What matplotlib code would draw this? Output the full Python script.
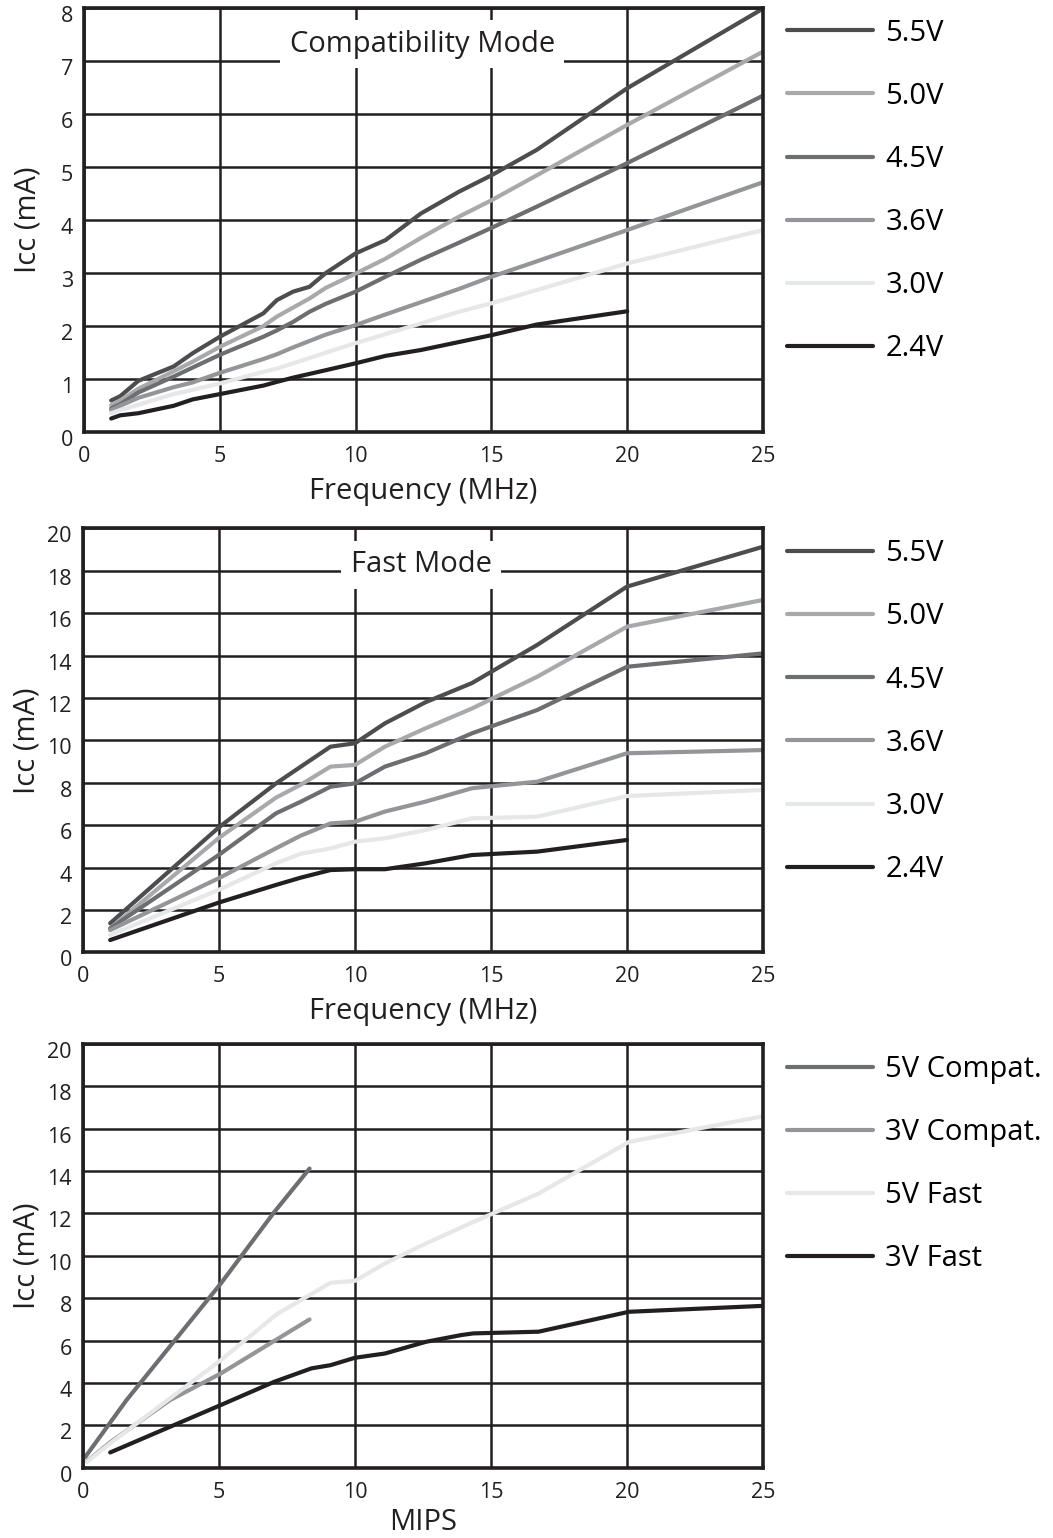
import numpy as np
import matplotlib
matplotlib.use("Agg")
import matplotlib.pyplot as plt
from matplotlib.lines import Line2D
from matplotlib.transforms import ScaledTranslation

plt.rcParams['font.family'] = ['Open Sans', 'DejaVu Sans']

# ---------------- data ----------------
# Compatibility mode, Icc (mA) vs frequency (MHz)
compat_freq = [1.0, 1.33, 2.0, 3.3, 4.0, 5.0, 6.6, 7.1, 7.7, 8.3, 8.9, 10.0,
               11.1, 12.4, 13.8, 15.0, 16.67, 20.0, 25.0]
compat_55 = [0.60, 0.68, 0.97, 1.24, 1.49, 1.80, 2.24, 2.49, 2.65, 2.74, 3.00, 3.37,
             3.62, 4.12, 4.53, 4.84, 5.32, 6.48, 7.98]
compat_50 = [0.51, 0.60, 0.82, 1.15, 1.33, 1.61, 2.00, 2.18, 2.35, 2.52, 2.72, 2.99,
             3.27, 3.66, 4.06, 4.37, 4.84, 5.79, 7.17]
compat_45 = [0.45, 0.53, 0.75, 1.05, 1.22, 1.46, 1.80, 1.92, 2.08, 2.27, 2.42, 2.65,
             2.93, 3.25, 3.57, 3.85, 4.25, 5.07, 6.34]
compat_36 = [0.42, 0.50, 0.65, 0.85, 0.94, 1.12, 1.38, 1.47, 1.60, 1.72, 1.84, 2.02,
             2.22, 2.45, 2.70, 2.93, 3.22, 3.81, 4.71]
compat_30 = [0.36, 0.42, 0.52, 0.72, 0.80, 0.92, 1.14, 1.20, 1.30, 1.40, 1.50, 1.68,
             1.85, 2.05, 2.27, 2.43, 2.68, 3.18, 3.81]
compat_24 = [0.26, 0.32, 0.36, 0.50, 0.62, 0.72, 0.88, 0.95, 1.03, 1.10, 1.17, 1.30,
             1.44, 1.55, 1.70, 1.83, 2.03, 2.28]

# Fast mode, Icc (mA) vs frequency (MHz)
fast_freq = [1.0, 5.0, 7.1, 8.0, 9.1, 10.0, 11.1, 12.6, 14.3, 16.7, 20.0, 25.0]
fast_55 = [1.37, 5.90, 7.97, 8.75, 9.70, 9.86, 10.80, 11.80, 12.70, 14.50, 17.25, 19.13]
fast_50 = [1.13, 5.40, 7.30, 7.90, 8.76, 8.84, 9.70, 10.57, 11.50, 13.00, 15.36, 16.62]
fast_45 = [1.13, 4.60, 6.56, 7.10, 7.81, 7.97, 8.76, 9.39, 10.33, 11.43, 13.47, 14.10]
fast_36 = [1.05, 3.50, 4.91, 5.50, 6.08, 6.16, 6.64, 7.11, 7.74, 8.05, 9.39, 9.54]
fast_30 = [0.82, 2.95, 4.20, 4.65, 4.90, 5.22, 5.38, 5.77, 6.32, 6.40, 7.37, 7.66]
fast_24 = [0.58, 2.35, 3.18, 3.52, 3.88, 3.92, 3.92, 4.20, 4.59, 4.75, 5.30]

# Icc (mA) vs MIPS
mips_5v_compat_x = [0.08, 1.6, 5.07, 7.04, 8.33]
mips_5v_compat_y = [0.50, 3.19, 8.70, 12.08, 14.12]
mips_3v_compat_x = [0.15, 1.0, 3.2, 5.07, 8.33]
mips_3v_compat_y = [0.30, 1.20, 3.19, 4.45, 7.00]
mips_5v_fast_x = [0.15, 1.0, 5.07, 7.16, 7.8, 9.1, 10.0, 11.1, 12.6, 14.35, 16.75, 20.07, 25.0]
mips_5v_fast_y = [0.28, 1.15, 5.08, 7.28, 7.75, 8.73, 8.82, 9.64, 10.58, 11.60, 12.94, 15.38, 16.59]
mips_3v_fast_x = [1.0, 5.07, 7.04, 8.4, 9.1, 10.0, 11.1, 12.6, 13.9, 14.35, 16.75, 20.07, 25.0]
mips_3v_fast_y = [0.72, 2.96, 4.06, 4.69, 4.84, 5.19, 5.39, 5.94, 6.26, 6.34, 6.42, 7.36, 7.64]

volt_labels = ['5.5V', '5.0V', '4.5V', '3.6V', '3.0V', '2.4V']
mips_labels = ['5V Compat.', '3V Compat.', '5V Fast', '3V Fast']

# styling
volt_colors = ['#4d4d4f', '#a7a9ac', '#6d6e71', '#939598', '#e6e7e8', '#231f20']
mips_colors = ['#6d6e71', '#939598', '#e6e7e8', '#231f20']
INK = '#231f20'
LW = 3.0
BIG = 21
TICK = 15.5


def style_axes(ax, ymax, ystep, xlabel, xlabel_y=-0.105):
    ax.set_xlim(0, 25)
    ax.set_ylim(0, ymax)
    ax.set_xticks(np.arange(0, 26, 5))
    ax.set_yticks(np.arange(0, ymax + 0.1, ystep))
    ax.set_axisbelow(True)
    ax.grid(True, color=INK, lw=1.8)
    for s in ax.spines.values():
        s.set_linewidth(2.6)
        s.set_color(INK)
    ax.tick_params(length=0, labelsize=TICK, colors=INK)
    ax.tick_params(axis='x', pad=10)
    ax.tick_params(axis='y', pad=8)
    # the reference sets the y labels slightly below their grid lines
    offset = ScaledTranslation(0, -6 / 100, ax.figure.dpi_scale_trans)
    for lab in ax.get_yticklabels():
        lab.set_transform(lab.get_transform() + offset)
    ax.set_ylabel('Icc (mA)', fontsize=BIG, color=INK)
    ax.yaxis.label.set_va('center')
    ax.yaxis.set_label_coords(-0.083, 0.5)
    ax.set_xlabel(xlabel, fontsize=BIG, color=INK)
    ax.xaxis.set_label_coords(0.5, xlabel_y)


def add_legend(ax, labels, colors):
    handles = [Line2D([], [], color=c, lw=LW, solid_capstyle='round') for c in colors]
    ax.legend(handles, labels, loc='upper left', bbox_to_anchor=(1.0353, 0.974),
              frameon=False, fontsize=BIG, handlelength=2.95, handletextpad=0.42,
              labelspacing=1.17, borderpad=0, borderaxespad=0)


fig = plt.figure(figsize=(10.53, 15.38), dpi=100)

# ---- compatibility mode ----
ax1 = fig.add_axes([0.0798, 0.7189, 0.6448, 0.2762])
series = [compat_55, compat_50, compat_45, compat_36, compat_30, compat_24]
for ys, c in zip(series, volt_colors):
    ax1.plot(compat_freq[:len(ys)], ys, color=c, lw=LW, solid_capstyle='round',
             solid_joinstyle='round')
style_axes(ax1, 8, 1, 'Frequency (MHz)')
ax1.text(12.45, 7.31, 'Compatibility Mode', ha='center', va='center', fontsize=BIG,
         color=INK, zorder=5,
         bbox=dict(boxstyle='square,pad=0.32', fc='white', ec='none'))
add_legend(ax1, volt_labels, volt_colors)

# ---- fast mode ----
ax2 = fig.add_axes([0.0788, 0.3808, 0.6458, 0.2757])
series = [fast_55, fast_50, fast_45, fast_36, fast_30, fast_24]
for ys, c in zip(series, volt_colors):
    ax2.plot(fast_freq[:len(ys)], ys, color=c, lw=LW, solid_capstyle='round',
             solid_joinstyle='round')
style_axes(ax2, 20, 2, 'Frequency (MHz)')
ax2.text(12.43, 18.27, 'Fast Mode', ha='center', va='center', fontsize=BIG,
         color=INK, zorder=5,
         bbox=dict(boxstyle='square,pad=0.32', fc='white', ec='none'))
add_legend(ax2, volt_labels, volt_colors)

# ---- MIPS ----
ax3 = fig.add_axes([0.0788, 0.0457, 0.6458, 0.2755])
mips_series = [(mips_5v_compat_x, mips_5v_compat_y),
               (mips_3v_compat_x, mips_3v_compat_y),
               (mips_5v_fast_x, mips_5v_fast_y),
               (mips_3v_fast_x, mips_3v_fast_y)]
for (xs, ys), c in zip(mips_series, mips_colors):
    ax3.plot(xs, ys, color=c, lw=LW, solid_capstyle='round', solid_joinstyle='round')
style_axes(ax3, 20, 2, 'MIPS', xlabel_y=-0.095)
add_legend(ax3, mips_labels, mips_colors)

fig.savefig('out.png', dpi=100)
